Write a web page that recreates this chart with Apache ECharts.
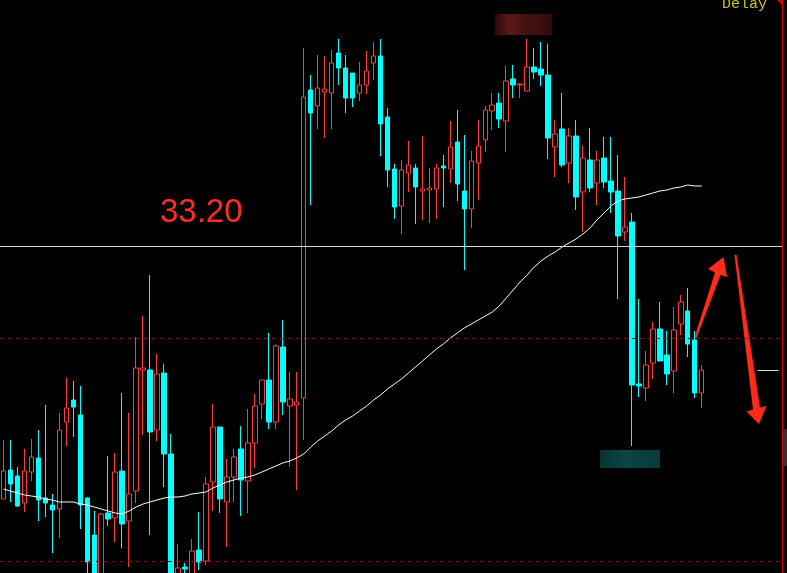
<!DOCTYPE html>
<html><head><meta charset="utf-8">
<script src="https://cdn.jsdelivr.net/npm/echarts@6/dist/echarts.min.js"></script>
<style>html,body{margin:0;padding:0;background:#000;overflow:hidden}#c{width:787px;height:573px}</style>
</head><body><div id="c"></div>
<script>
// ---- data (prices) ----
const opens = [30.67,30.96,30.90,30.63,30.94,31.08,30.68,30.61,30.57,31.44,
31.66,31.51,30.68,30.31,29.86,30.53,30.48,30.95,30.45,30.75,
31.96,31.96,31.36,31.93,31.12,29.86,29.99,29.91,30.16,30.05,
30.84,31.39,30.64,30.89,31.17,30.85,31.23,31.62,31.86,31.44,
32.19,31.60,31.61,31.68,34.76,34.60,34.74,34.73,35.13,34.98,
34.93,34.73,34.81,35.03,35.10,34.49,33.97,33.60,33.93,33.98,
33.75,33.76,33.77,34.00,33.97,34.24,33.75,33.57,34.03,34.26,
34.55,34.63,34.45,34.87,34.81,34.75,34.99,34.97,34.91,34.19,
34.37,34.03,34.30,33.74,34.06,33.83,34.08,33.85,33.75,33.34,
33.44,31.82,31.78,32.03,32.37,32.11,31.95,32.42,32.55,32.26,31.73];
const closes = [30.95,30.82,30.60,30.95,31.09,30.66,30.63,30.56,31.36,31.58,
31.59,30.61,30.04,29.88,30.52,30.47,30.94,30.42,30.72,31.98,
31.98,31.34,31.92,31.12,29.81,29.98,29.97,30.15,30.04,30.82,
31.39,30.67,30.89,31.09,30.86,31.23,31.60,31.86,31.44,32.20,
31.64,31.67,31.64,34.69,34.53,34.78,34.77,35.03,34.98,34.68,
34.68,34.81,34.95,35.10,34.42,33.96,33.59,33.96,34.01,33.79,
33.77,33.78,33.98,33.98,34.19,33.82,33.57,34.05,34.20,34.56,
34.61,34.47,34.85,34.81,34.82,34.99,34.94,34.91,34.28,34.32,
34.01,34.30,33.69,34.08,33.78,34.06,33.84,33.74,33.30,33.39,
31.81,31.80,32.01,32.37,32.05,31.92,32.36,32.64,32.22,31.73,31.96];
const lows = [30.67,30.64,30.59,30.54,30.85,30.45,30.49,30.13,30.28,31.20,
31.29,30.37,29.86,29.81,29.81,30.40,30.24,30.18,29.99,30.63,
31.31,30.31,31.25,30.79,29.76,29.81,29.90,29.88,29.96,30.01,
30.55,30.53,30.19,30.64,30.50,30.53,30.98,31.47,31.37,31.37,
31.51,30.99,30.76,31.26,33.61,34.37,34.28,34.37,34.81,34.53,
34.59,34.65,34.72,34.86,34.10,33.79,33.47,33.32,33.74,33.42,
33.46,33.43,33.47,33.59,33.83,33.65,32.96,33.38,33.66,34.14,
34.36,34.38,34.14,34.68,34.68,34.75,34.87,34.80,34.07,33.89,
33.99,33.83,33.56,33.34,33.74,33.61,33.78,33.53,32.67,33.25,
31.20,31.69,31.65,31.87,32.05,31.81,31.73,32.31,32.09,31.68,31.58];
const highs = [31.26,31.26,30.99,31.17,31.27,31.36,31.61,30.72,31.53,31.88,
31.85,31.80,30.69,30.55,30.53,31.10,31.13,31.73,31.53,32.29,
32.50,32.91,32.12,32.02,31.32,30.22,30.03,30.27,30.54,30.89,
31.62,31.39,31.07,31.17,31.40,31.57,31.72,31.86,32.33,32.22,
32.46,31.94,31.94,35.18,34.91,35.11,35.10,35.16,35.27,35.11,
34.93,35.04,35.15,35.24,35.27,34.58,34.02,34.06,34.25,34.02,
34.30,33.98,34.02,34.11,34.45,34.56,34.31,34.15,34.46,34.60,
34.73,34.73,35.00,35.01,34.83,35.27,35.18,35.24,35.22,34.46,
34.73,34.38,34.46,34.20,34.38,34.15,34.29,34.29,34.11,33.89,
33.53,32.67,32.15,32.44,32.64,32.35,32.59,32.71,32.78,32.35,32.01];
const maLine = [30.77,30.75,30.73,30.71,30.70,30.69,30.67,30.66,30.64,30.64,
30.64,30.62,30.61,30.59,30.57,30.55,30.53,30.52,30.55,30.59,
30.62,30.64,30.66,30.68,30.69,30.69,30.70,30.72,30.73,30.74,
30.78,30.81,30.84,30.86,30.88,30.89,30.91,30.94,30.97,31.00,
31.03,31.05,31.08,31.12,31.19,31.25,31.30,31.35,31.41,31.46,
31.50,31.55,31.60,31.66,31.71,31.77,31.82,31.87,31.93,31.99,
32.05,32.11,32.17,32.22,32.28,32.33,32.38,32.42,32.46,32.50,
32.54,32.60,32.68,32.76,32.84,32.91,32.99,33.05,33.10,33.14,
33.19,33.23,33.27,33.32,33.38,33.46,33.53,33.60,33.65,33.67,
33.68,33.69,33.71,33.73,33.75,33.76,33.78,33.79,33.81,33.80,33.80];
const levelLine = 33.20;
const levelLabel = '33.20';
const dashedLevels = [32.28, 30.05];
const slotCount = 112;
const categories = Array.from({length: slotCount}, (_, i) => String(i + 1));
const candles = opens.map((o, i) => [o, closes[i], lows[i], highs[i]]);
const lastClose = closes[closes.length - 1];

const chart = echarts.init(document.getElementById('c'), null, {renderer: 'canvas'});
chart.setOption({
  backgroundColor: '#000000',
  animation: false,
  grid: {left: -3.2, right: 5, top: 0, bottom: 0, containLabel: false},
  xAxis: {type: 'category', data: categories, boundaryGap: true, show: false},
  yAxis: {
    type: 'value', position: 'right', min: 29.93, max: 35.66, scale: true,
    axisLine: {show: true, lineStyle: {color: '#d00000', width: 1}},
    axisTick: {show: false}, axisLabel: {show: false}, splitLine: {show: false}
  },
  series: [
    {
      type: 'candlestick', data: candles, barWidth: 5, clip: true,
      itemStyle: {color: '#000000', color0: '#00ffff', borderColor: '#ff3c3c', borderColor0: '#00ffff', borderWidth: 1},
      markLine: {
        silent: true, symbol: ['none', 'none'], label: {show: false},
        data: [
          {yAxis: levelLine, lineStyle: {color: '#d8d8d8', width: 1, type: 'solid'}},
          {yAxis: dashedLevels[0], lineStyle: {color: '#a00000', width: 1, type: [4, 4]}},
          {yAxis: dashedLevels[1], lineStyle: {color: '#a00000', width: 1, type: [4, 4]}},
          [{coord: [108, lastClose], lineStyle: {color: '#e0e0e0', width: 1, type: 'solid'}}, {coord: [111, lastClose]}]
        ]
      }
    },
    {
      type: 'line', data: maLine, showSymbol: false, symbol: 'none',
      lineStyle: {color: '#ffffff', width: 1}, z: 3
    }
  ],
  graphic: [
    {type: 'text', left: 160, top: 196, style: {text: levelLabel, fill: '#ff2a2a', font: '33px "Liberation Sans", Arial, sans-serif'}},
    {type: 'text', left: 722, top: -3, style: {text: 'Delay', fill: '#c8c800', font: '15px "Liberation Mono", "DejaVu Sans Mono", monospace'}},
    {type: 'polygon', shape: {points: [[777, 0], [782, 0], [782, 5]]}, style: {fill: '#d00000'}},
    {type: 'rect', shape: {x: 495, y: 14, width: 57, height: 21},
      style: {fill: new echarts.graphic.LinearGradient(0, 0, 1, 0, [
        {offset: 0, color: '#2a0808'}, {offset: 0.25, color: '#5e1818'}, {offset: 0.5, color: '#461212'}, {offset: 1, color: '#330b0b'}])}},
    {type: 'rect', shape: {x: 600, y: 450, width: 60, height: 18},
      style: {fill: new echarts.graphic.LinearGradient(0, 0, 1, 0, [
        {offset: 0, color: '#0a3434'}, {offset: 0.4, color: '#0d4444'}, {offset: 1, color: '#0a3a3a'}])}},
    {type: 'rect', shape: {x: 783, y: 429, width: 4, height: 37}, style: {fill: '#333333'}},
    {type: 'polygon', shape: {points: [[694.5, 337.5], [715, 272.5], [708, 269], [723.5, 257], [727, 277], [720.5, 275], [696.5, 338]]}, style: {fill: '#ff2a1a'}},
    {type: 'polygon', shape: {points: [[734.5, 255], [753, 409.5], [746.5, 411.5], [759, 424], [766.5, 406], [760, 407.5], [736.5, 254.5]]}, style: {fill: '#ff2a1a'}}
  ]
});
</script></body></html>
